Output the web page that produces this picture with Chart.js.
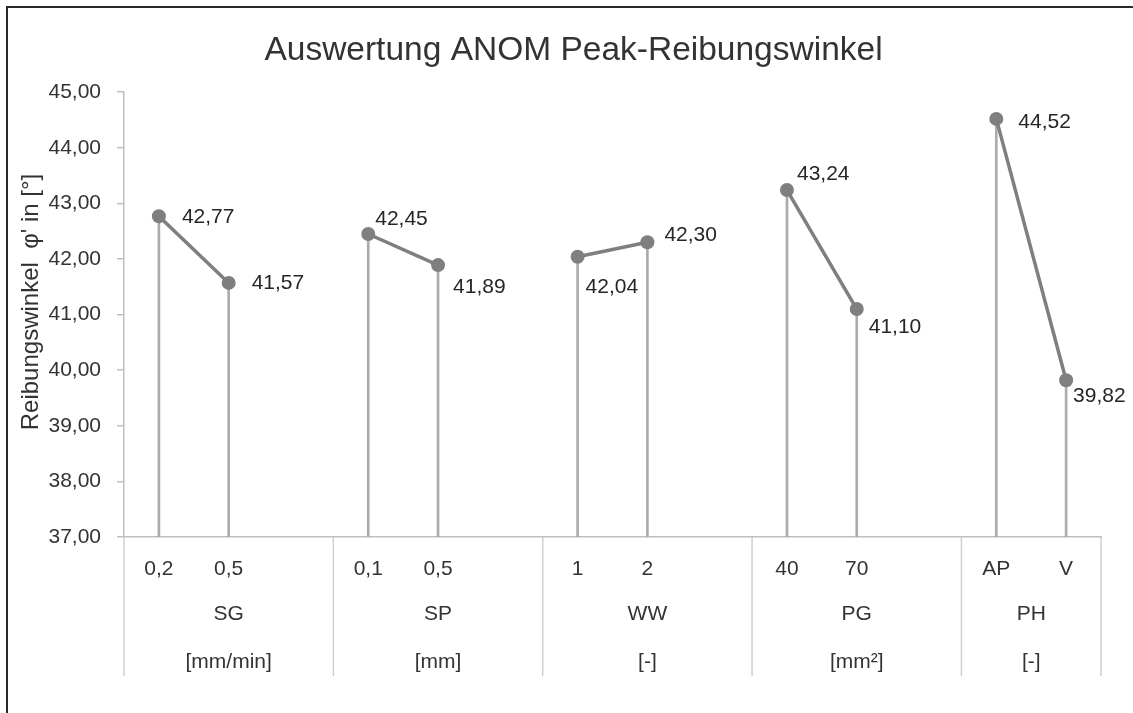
<!DOCTYPE html>
<html><head><meta charset="utf-8">
<script src="https://cdn.jsdelivr.net/npm/chart.js@4/dist/chart.umd.min.js"></script>
<style>html,body{margin:0;padding:0;background:#fff}#wrap{width:1133px;height:713px;position:relative}</style>
</head><body><div id="wrap"><canvas id="c" width="1133" height="713"></canvas></div>
<script>
const chartTitle = 'Auswertung ANOM Peak-Reibungswinkel';
const yAxisTitle = "Reibungswinkel  φ' in [°]";
const levelLabels = ['0,2','0,5','','0,1','0,5','','1','2','','40','70','','AP','V'];
const factorNames = ['SG','SP','WW','PG','PH'];
const factorUnits = ['[mm/min]','[mm]','[-]','[mm²]','[-]'];
const factorSlots = [3,3,3,3,2];
const meanValues = [42.77,41.57,null,42.45,41.89,null,42.04,42.30,null,43.24,41.10,null,44.52,39.82];
const yMin = 37, yMax = 45, yStep = 1;

const FONT = "'Liberation Sans', Arial, sans-serif";
const fmt = v => Number(v).toFixed(2).replace('.', ',');
const labelOffsets = {0:[23,1],1:[23,0],3:[7,-15],4:[15,22],6:[8,30],7:[17,-7],9:[10,-16],10:[12,18],12:[22,3],13:[7,16]};

const decor = {
  id: 'decor',
  afterDraw(chart) {
    const ctx = chart.ctx, x = chart.scales.x, area = chart.chartArea;
    ctx.save();
    const half = (x.getPixelForValue(1) - x.getPixelForValue(0)) / 2;
    const bounds = [x.getPixelForValue(0) - half];
    let idx = 0;
    factorSlots.forEach(n => { idx += n; bounds.push(x.getPixelForValue(idx - 1) + half); });
    ctx.strokeStyle = '#cfcfcf'; ctx.lineWidth = 1.5;
    bounds.forEach(b => { ctx.beginPath(); ctx.moveTo(b, area.bottom); ctx.lineTo(b, 676); ctx.stroke(); });
    ctx.fillStyle = '#333'; ctx.font = '21px ' + FONT; ctx.textAlign = 'center'; ctx.textBaseline = 'middle';
    factorNames.forEach((n, i) => {
      const cx = (bounds[i] + bounds[i + 1]) / 2;
      ctx.fillText(n, cx, 614);
      ctx.fillText(factorUnits[i], cx, 662);
    });
    // data labels
    const meta = chart.getDatasetMeta(0);
    ctx.fillStyle = '#262626'; ctx.textAlign = 'left';
    meanValues.forEach((v, i) => {
      if (v === null) return;
      const p = meta.data[i]; const o = labelOffsets[i] || [20, 0];
      ctx.fillText(fmt(v), p.x + o[0], p.y + o[1]);
    });
    // y axis title
    ctx.save();
    ctx.translate(31, 302);
    ctx.rotate(-Math.PI / 2);
    ctx.font = '24px ' + FONT; ctx.textAlign = 'center'; ctx.fillStyle = '#333';
    ctx.fillText(yAxisTitle, 0, 0);
    ctx.restore();
    // chart frame (top and left)
    ctx.strokeStyle = '#2a2a2a'; ctx.lineWidth = 2;
    ctx.beginPath(); ctx.moveTo(7, 713); ctx.lineTo(7, 7); ctx.lineTo(1133, 7); ctx.stroke();
    ctx.restore();
  }
};

new Chart(document.getElementById('c'), {
  type: 'bar',
  data: {
    labels: levelLabels,
    datasets: [
      { type: 'line', data: meanValues, borderColor: '#7f7f7f', borderWidth: 3.5, pointRadius: 7, pointHoverRadius: 7,
        pointBackgroundColor: '#7f7f7f', pointBorderWidth: 0, spanGaps: false, tension: 0, order: 0 },
      { type: 'bar', data: meanValues, backgroundColor: '#ababab', barThickness: 2, order: 1 }
    ]
  },
  options: {
    responsive: false, animation: false, devicePixelRatio: 1,
    layout: { padding: { left: 46, right: 32, top: 0, bottom: 0 } },
    plugins: {
      legend: { display: false }, tooltip: { enabled: false },
      title: { display: true, text: chartTitle, color: '#333', font: { family: FONT, size: 33.5, weight: 'normal' }, padding: { top: 31, bottom: 21 } }
    },
    scales: {
      x: { offset: true, grid: { display: false, drawTicks: false }, border: { display: true, color: '#bfbfbf', width: 1.5 },
           ticks: { color: '#333', font: { family: FONT, size: 21 }, padding: 20, autoSkip: false, maxRotation: 0 },
           afterFit(s) { s.height = 176; } },
      y: { min: yMin, max: yMax,
           grid: { display: true, drawOnChartArea: false, drawTicks: true, tickLength: 7, color: '#bfbfbf', lineWidth: 1.5 },
           border: { display: true, color: '#bfbfbf', width: 1.5 },
           ticks: { stepSize: yStep, color: '#333', font: { family: FONT, size: 21 }, padding: 16, callback: v => fmt(v) },
           afterFit(s) { s.width = 78; } }
    }
  },
  plugins: [decor]
});
</script></body></html>
